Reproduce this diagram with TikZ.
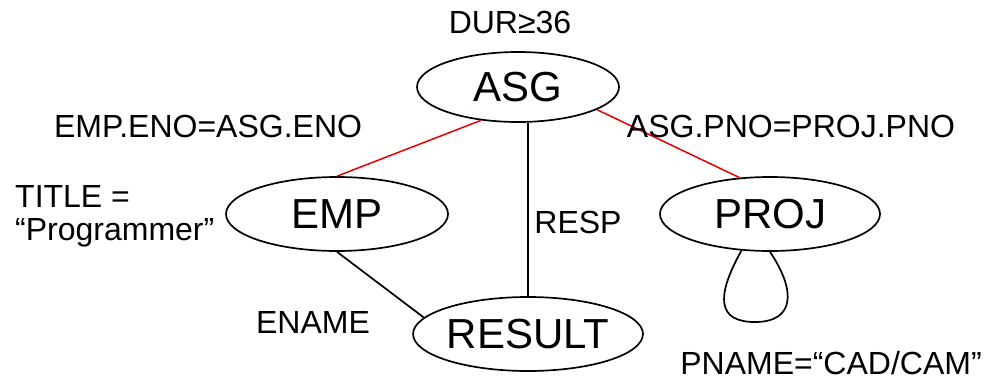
\documentclass[tikz,border=0pt]{standalone}
\usepackage{fontspec}
\setmainfont{Liberation Sans}
\usetikzlibrary{shapes.geometric}
\begin{document}
\begin{tikzpicture}[x=1pt,y=-1pt,
  rel/.style={draw,ellipse,line width=1.7pt,inner sep=0pt,font=\fontsize{42}{48}\selectfont},
  lbl/.style={inner sep=0pt,font=\fontsize{32}{38}\selectfont},
  plainedge/.style={line width=1.7pt},
  joinedge/.style={line width=1.5pt,draw={rgb,255:red,230;green,0;blue,0}}]
\useasboundingbox (0,0) rectangle (990,380);
\node[rel,minimum width=202pt,minimum height=70pt] (asg) at (518,87) {ASG};
\node[rel,minimum width=222pt,minimum height=74pt] (emp) at (337,214) {EMP};
\node[rel,minimum width=220pt,minimum height=74pt] (proj) at (770,214) {PROJ};
\node[rel,minimum width=220pt,minimum height=74pt] (result) at (528,334) {RESULT};
\draw[joinedge] (asg.222) -- (emp.north);
\draw[joinedge] (asg.344) -- (proj.130);
\draw[plainedge] (result.north) -- (result.north |- asg.south);
\draw[plainedge] (emp.south) -- (result.171);
\draw[plainedge] (proj.232) .. controls (715,298) and (718,322) .. (755,322)
  .. controls (794,322) and (797,292) .. (proj.south);
\node[lbl] (dur) at (510,22) {DUR≥36};
\node[lbl] (empeno) at (208,126) {EMP.ENO=ASG.ENO};
\node[lbl] (asgpno) at (791,126) {ASG.PNO=PROJ.PNO};
\node[lbl,anchor=west] (title) at (15,196) {TITLE =};
\node[lbl,anchor=west] (prog) at (15,233) {“Programmer”};
\node[lbl] (resp) at (578,222) {RESP};
\node[lbl] (ename) at (313,322) {ENAME};
\node[lbl] (pname) at (831,363) {PNAME=“CAD/CAM”};
\end{tikzpicture}
\end{document}
